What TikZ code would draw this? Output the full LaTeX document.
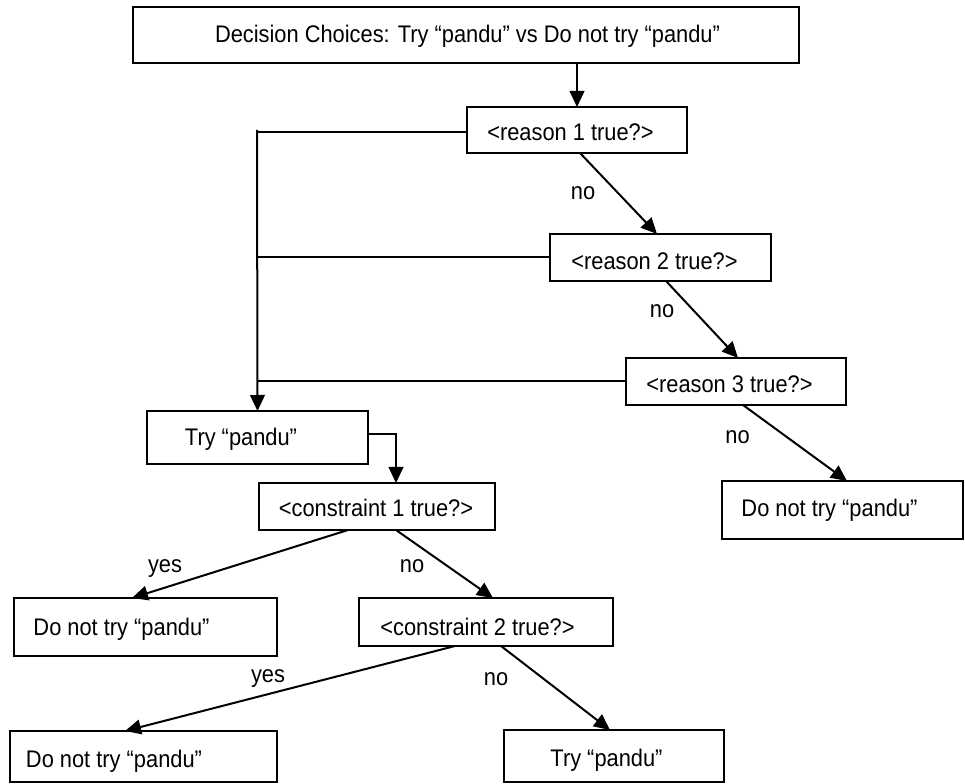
\documentclass[tikz,border=0pt]{standalone}
\usepackage{fontspec}
\setmainfont{Liberation Sans}[FakeStretch=0.91]
\usetikzlibrary{arrows.meta,calc}

\tikzset{
  box/.style 2 args={draw, line width=1.5pt, inner sep=0pt, outer sep=0pt,
    minimum width=#1*0.75pt, minimum height=#2*0.75pt},
  txt/.style={anchor=base, inner sep=0pt, font=\fontsize{18}{21}\selectfont},
  link/.style={line width=1.5pt},
  arr/.style={line width=1.5pt, -{Triangle[length=12pt,width=11pt]}},
}

\begin{document}
\begin{tikzpicture}[x=0.75pt, y=-0.75pt]
\useasboundingbox (0,0) rectangle (965,784);

% decision boxes (centre, width and height in px)
\node[box={666}{56}] (top)  at (466,35)      {};
\node[box={220}{46}] (r1)   at (577,130)     {};
\node[box={221}{47}] (r2)   at (660.5,257.5) {};
\node[box={220}{47}] (r3)   at (736,381.5)   {};
\node[box={241}{58}] (dntR) at (842.5,510)   {};
\node[box={221}{53}] (try1) at (257.5,437.5) {};
\node[box={236}{47}] (c1)   at (377,506.5)   {};
\node[box={263}{58}] (dnt1) at (145.5,627)   {};
\node[box={254}{48}] (c2)   at (486,622)     {};
\node[box={267}{51}] (dnt2) at (143.5,756.5) {};
\node[box={220}{52}] (try2) at (614,756)     {};

% box texts
\node[txt] (t-top)  at (467.5,43)  {Decision Choices: Try “pandu” vs Do not try “pandu”};
\node[txt] (t-r1)   at (570.5,141) {<reason 1 true?>};
\node[txt] (t-r2)   at (654.5,270) {<reason 2 true?>};
\node[txt] (t-r3)   at (729.5,393) {<reason 3 true?>};
\node[txt] (t-dntR) at (829.5,517) {Do not try “pandu”};
\node[txt] (t-try1) at (241,446)   {Try “pandu”};
\node[txt] (t-c1)   at (376,517)   {<constraint 1 true?>};
\node[txt] (t-dnt1) at (121.5,635) {Do not try “pandu”};
\node[txt] (t-c2)   at (477.5,635) {<constraint 2 true?>};
\node[txt] (t-dnt2) at (114,767)   {Do not try “pandu”};
\node[txt] (t-try2) at (606.5,766) {Try “pandu”};

% branch labels
\node[txt] (n1)  at (583,200)   {no};
\node[txt] (n2)  at (662,318)   {no};
\node[txt] (n3)  at (737.5,444) {no};
\node[txt] (y1)  at (165,572)   {yes};
\node[txt] (n4)  at (412,572)   {no};
\node[txt] (y2)  at (268,682)   {yes};
\node[txt] (n5)  at (496,685)   {no};

% left collecting line
\coordinate (spine) at (257,130);

\draw[arr] (r1.north |- top.south) -- (r1.north);
\draw[link] ($(r1.west)+(0,2)$) -- ($(r1.west -| spine)+(0,2)$);
\draw[link] (r2.west) -- (r2.west -| spine);
\draw[link] (r3.west) -- (r3.west -| spine);
\draw[arr] (spine) -- (try1.north);

\draw[arr] ($(r1.south)+(3,0)$) -- ($(r2.north)+(-3.5,0)$);
\draw[arr] ($(r2.south)+(5.5,0)$) -- ($(r3.north)+(2,0)$);
\draw[arr] ($(r3.south)+(7,0)$) -- ($(dntR.north)+(4.5,0)$);

\draw[arr] ($(try1.east)+(0,-3.5)$) -| ($(c1.north)+(19,0)$);
\draw[arr] ($(c1.south)+(-29,0)$) -- ($(dnt1.north)+(-13.5,0)$);
\draw[arr] ($(c1.south)+(19,0)$) -- ($(c2.north)+(7,0)$);
\draw[arr] ($(c2.south)+(-31,0)$) -- ($(dnt2.north)+(-18.5,0)$);
\draw[arr] ($(c2.south)+(15,0)$) -- ($(try2.north)+(-4,0)$);
\end{tikzpicture}
\end{document}
